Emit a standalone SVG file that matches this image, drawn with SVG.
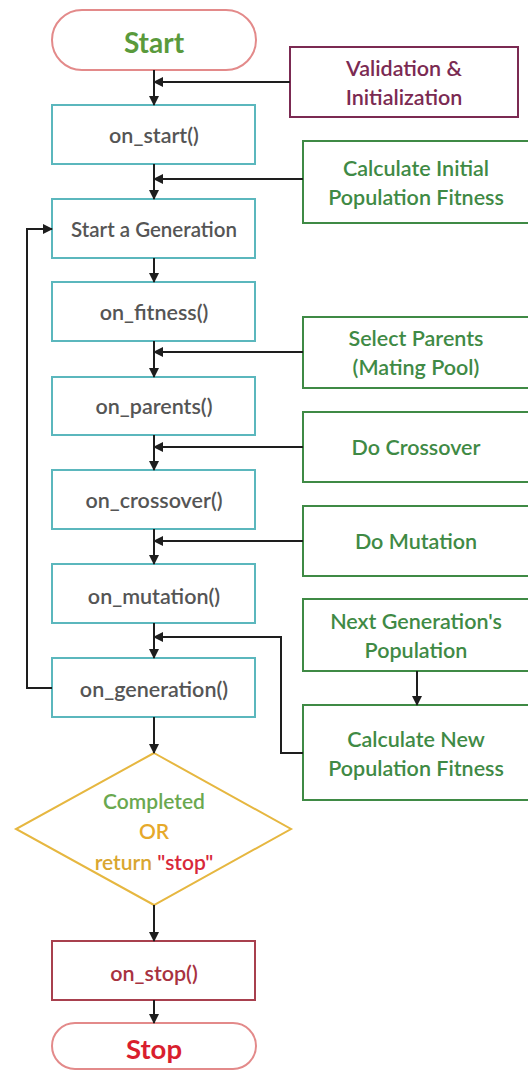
<svg xmlns="http://www.w3.org/2000/svg" width="528" height="1070" viewBox="0 0 528 1070">
<defs>
<marker id="ah" viewBox="0 0 10 10" refX="9" refY="5" markerWidth="5" markerHeight="5" orient="auto" markerUnits="strokeWidth">
<path d="M0,0 L10,5 L0,10 z" fill="#1e1e1e"/>
</marker>
</defs>
<style>
text{font-family:Lato,"Open Sans","Liberation Sans",sans-serif;text-anchor:middle;dominant-baseline:central;font-weight:600}
.proc{fill:#fff;stroke:#5bb7bd;stroke-width:2}
.ptx{fill:#555;font-size:21.5px}
.grn{fill:#fff;stroke:#3f8a45;stroke-width:2}
.gtx{fill:#3f8a45;font-size:21.5px}
.pill{fill:#fff;stroke:#e38a8a;stroke-width:2}
.con{fill:none;stroke:#1e1e1e;stroke-width:2;marker-end:url(#ah)}
</style>
<rect width="528" height="1070" fill="#fff"/>
<g id="start"><rect class="pill" x="52" y="10" width="204" height="60" rx="30"/><text x="154" y="42" fill="#5a9a3c" style="font-size:28px;font-weight:700">Start</text></g>
<g id="validation"><rect x="290" y="47" width="228" height="70" fill="#fff" stroke="#7b2a52" stroke-width="2"/><text x="404" y="68" fill="#7b2a52" style="font-size:21.5px">Validation &amp;</text><text x="404" y="97" fill="#7b2a52" style="font-size:21.5px">Initialization</text></g>
<g id="on_start"><rect class="proc" x="52" y="105" width="203" height="59"/><text class="ptx" x="154" y="135">on_start()</text></g>
<g id="calc_initial"><rect class="grn" x="303" y="141" width="235" height="82"/><text class="gtx" x="416" y="168">Calculate Initial</text><text class="gtx" x="416" y="197">Population Fitness</text></g>
<g id="start_gen"><rect class="proc" x="52" y="199" width="203" height="59"/><text class="ptx" x="154" y="229" style="font-size:20.5px">Start a Generation</text></g>
<g id="on_fitness"><rect class="proc" x="52" y="282" width="203" height="59"/><text class="ptx" x="154" y="312">on_fitness()</text></g>
<g id="select_parents"><rect class="grn" x="303" y="317" width="235" height="71"/><text class="gtx" x="416" y="338">Select Parents</text><text class="gtx" x="416" y="367">(Mating Pool)</text></g>
<g id="on_parents"><rect class="proc" x="52" y="377" width="203" height="58"/><text class="ptx" x="154" y="406">on_parents()</text></g>
<g id="do_crossover"><rect class="grn" x="303" y="412" width="235" height="70"/><text class="gtx" x="416" y="447">Do Crossover</text></g>
<g id="on_crossover"><rect class="proc" x="52" y="470" width="203" height="59"/><text class="ptx" x="154" y="500">on_crossover()</text></g>
<g id="do_mutation"><rect class="grn" x="303" y="506" width="235" height="70"/><text class="gtx" x="416" y="541">Do Mutation</text></g>
<g id="on_mutation"><rect class="proc" x="52" y="564" width="203" height="59"/><text class="ptx" x="154" y="596">on_mutation()</text></g>
<g id="next_gen"><rect class="grn" x="303" y="599" width="235" height="72"/><text class="gtx" x="416" y="621">Next Generation's</text><text class="gtx" x="416" y="650">Population</text></g>
<g id="calc_new"><rect class="grn" x="303" y="705" width="235" height="95"/><text class="gtx" x="416" y="739">Calculate New</text><text class="gtx" x="416" y="768">Population Fitness</text></g>
<g id="on_generation"><rect class="proc" x="52" y="658" width="203" height="59"/><text class="ptx" x="154" y="689">on_generation()</text></g>
<g id="decision"><polygon points="154,753 291,829 154,905 16,829" fill="#fff" stroke="#e6b740" stroke-width="2"/><text x="154" y="800" fill="#6aa84f" style="font-size:21px">Completed</text><text x="154" y="830" fill="#e6a92a" style="font-size:21px">OR</text><text x="154" y="861" style="font-size:21px"><tspan fill="#d9a630">return </tspan><tspan fill="#d8283a">"stop"</tspan></text></g>
<g id="on_stop"><rect x="52" y="941" width="203" height="59" fill="#fff" stroke="#a8404e" stroke-width="2"/><text x="154" y="973" fill="#a8323f" style="font-size:21.5px">on_stop()</text></g>
<g id="stop"><rect class="pill" x="52" y="1023" width="204" height="46" rx="23"/><text x="154" y="1048" fill="#d91e2e" style="font-size:27.5px;font-weight:700">Stop</text></g>
<g id="connectors">
<path class="con" d="M154,70 V105"/>
<path class="con" d="M290,82 H154"/>
<path class="con" d="M154,164 V199"/>
<path class="con" d="M303,179 H154"/>
<path class="con" d="M154,258 V282"/>
<path class="con" d="M154,341 V377"/>
<path class="con" d="M303,352 H154"/>
<path class="con" d="M154,435 V470"/>
<path class="con" d="M303,447 H154"/>
<path class="con" d="M154,529 V564"/>
<path class="con" d="M303,541 H154"/>
<path class="con" d="M154,623 V658"/>
<path class="con" d="M417,671 V705"/>
<path class="con" d="M303,753 H281 V637 H154"/>
<path class="con" d="M52,688 H27 V229 H52"/>
<path class="con" d="M154,717 V753"/>
<path class="con" d="M154,905 V941"/>
<path class="con" d="M154,1000 V1023"/>
</g>
</svg>
